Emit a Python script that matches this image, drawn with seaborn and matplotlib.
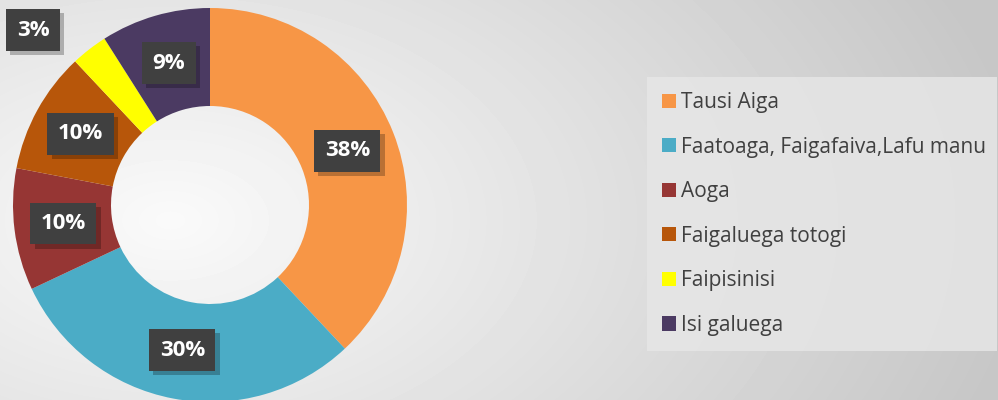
import numpy as np
import matplotlib
matplotlib.use("Agg")
import matplotlib.pyplot as plt
import matplotlib.patheffects as pe
import seaborn as sns

# =========================
# DATA
# =========================
labels = ["Tausi Aiga", "Faatoaga, Faigafaiva,Lafu manu", "Aoga",
          "Faigaluega totogi", "Faipisinisi", "Isi galuega"]
values = [38, 30, 10, 10, 3, 9]
colors = ["#F79646", "#4BACC6", "#963634", "#B7560A", "#FFFF00", "#4B3A62"]

# =========================
# STYLE
# =========================
sns.set_theme(style="white")
plt.rcParams["font.family"] = ["Open Sans", "DejaVu Sans"]
palette = sns.color_palette(colors)

W, H = 998, 400
fig = plt.figure(figsize=(W / 100, H / 100), dpi=100)
ax = fig.add_axes([0, 0, 1, 1])

# background: soft radial grey gradient
yy, xx = np.mgrid[0:H, 0:W]
d = np.sqrt(((xx - 170) / 900.0) ** 2 + ((yy - 220) / 550.0) ** 2)
shade = np.clip(0.98 - 0.21 * d, 0.78, 0.98)
ax.imshow(shade, cmap="gray", vmin=0, vmax=1, extent=[0, W, 0, H],
          origin="upper", zorder=0, aspect="auto")

# =========================
# DONUT
# =========================
wedges, texts, autotexts = ax.pie(
    values,
    colors=palette,
    startangle=90,
    counterclock=False,
    center=(210, 195),
    radius=197,
    frame=True,
    autopct=lambda p: f"{p:.0f}%",
    pctdistance=0.75,
    wedgeprops=dict(width=98, linewidth=0),
)

for t in autotexts:
    t.set_color("white")
    t.set_fontsize(16)
    t.set_fontweight("bold")
    t.set_bbox(dict(boxstyle="square,pad=0.47", facecolor="#404040", edgecolor="none"))
    t.get_bbox_patch().set_path_effects([
        pe.withSimplePatchShadow(offset=(3, -3), shadow_rgbFace="black", alpha=0.25),
        pe.Normal(),
    ])
    t.set_zorder(5)

# the small slice label was dragged outside the ring
autotexts[4].set_position((33, H - 30))

ax.set_xlim(0, W)
ax.set_ylim(0, H)
ax.set_aspect("equal")
ax.axis("off")

# =========================
# LEGEND
# =========================
leg = ax.legend(
    wedges, labels,
    loc="upper left",
    bbox_to_anchor=(647 / W, 52 / H, 350 / W, (H - 77 - 52) / H),
    mode="expand",
    frameon=True,
    fancybox=False,
    fontsize=15,
    handlelength=0.68,
    handleheight=0.68,
    handletextpad=0.25,
    labelspacing=1.13,
    borderpad=0.72,
    borderaxespad=0,
)
frame = leg.get_frame()
frame.set_facecolor("#e6e6e6")
frame.set_edgecolor("none")
frame.set_alpha(0.85)
for t in leg.get_texts():
    t.set_color("#404040")

fig.savefig("out.png", dpi=100)
